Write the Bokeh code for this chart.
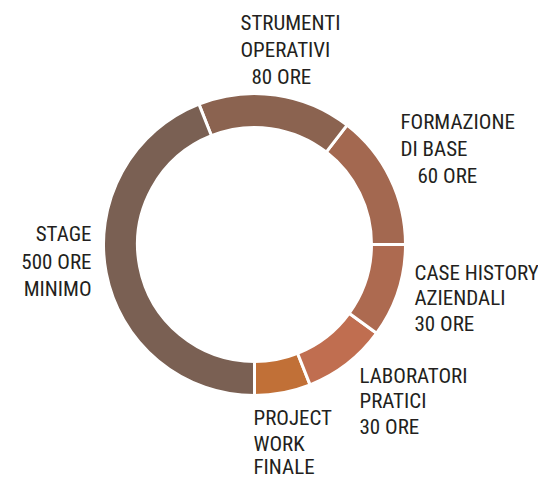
import math
from bokeh.plotting import figure
from bokeh.models import Range1d, ColumnDataSource
from bokeh.core.properties import value
from bokeh.embed import file_html
from bokeh.resources import INLINE

# ---- data (counter-clockwise from 6 o'clock) ----
categories = ["PROJECT WORK FINALE", "LABORATORI PRATICI", "CASE HISTORY AZIENDALI",
              "FORMAZIONE DI BASE", "STRUMENTI OPERATIVI", "STAGE 500 ORE MINIMO"]
shares = [6, 9, 10, 14.5, 16.5, 44]
colors = ["#c17037", "#c06e50", "#ad6a50", "#a36850", "#8b6350", "#7a6053"]

label_lines = [
    ["PROJECT", "WORK", "FINALE"],
    ["LABORATORI", "PRATICI", "30 ORE"],
    ["CASE HISTORY", "AZIENDALI", "30 ORE"],
    ["FORMAZIONE", "DI BASE", "60 ORE"],
    ["STRUMENTI", "OPERATIVI", "80 ORE"],
    ["STAGE", "500 ORE", "MINIMO"],
]

# ---- layout (screen pixels, y measured from top; y = text baseline) ----
W, H = 538, 478
CX, CY = 254, 244
R_OUT, R_IN = 151, 117
BASE_SHIFT = 8  # renderer places alphabetic baseline lower; compensate
label_layout = [
    [(253, 425, "left"), (253, 451, "left"), (253, 474, "left")],
    [(359, 383, "left"), (359, 408.5, "left"), (359, 434, "left")],
    [(414, 280, "left"), (414, 305.5, "left"), (414, 331, "left")],
    [(400, 129, "left"), (400, 156.5, "left"), (417, 183, "left")],
    [(240, 30, "left"), (240, 57, "left"), (251, 84, "left")],
    [(91, 241.5, "right"), (91, 269.5, "right"), (91, 296.5, "right")],
]

total = sum(shares)
starts, ends = [], []
acc = -math.pi / 2
for s in shares:
    starts.append(acc)
    acc += s / total * 2 * math.pi
    ends.append(acc)

src = ColumnDataSource(dict(x=[CX] * len(shares), y=[H - CY] * len(shares),
                            start=starts, end=ends, color=colors, cat=categories))

p = figure(width=W, height=H, x_range=Range1d(0, W), y_range=Range1d(0, H),
           output_backend="svg", toolbar_location=None, min_border=0)
p.axis.visible = False
p.grid.visible = False
p.outline_line_color = None
p.background_fill_color = "white"
p.border_fill_color = "white"

p.annular_wedge(x="x", y="y", inner_radius=R_IN, outer_radius=R_OUT,
                start_angle="start", end_angle="end", fill_color="color",
                line_color="white", line_width=3, source=src)

tx, ty, tt, ta = [], [], [], []
for lines, lay in zip(label_lines, label_layout):
    for txt, (x, y, al) in zip(lines, lay):
        tx.append(x); ty.append(H - (y - BASE_SHIFT)); tt.append(txt); ta.append(al)
tsrc = ColumnDataSource(dict(x=tx, y=ty, text=tt, align=ta))
p.text(x="x", y="y", text="text", text_align="align", text_baseline="alphabetic",
       text_font=value("Roboto Condensed"), text_font_size="21px",
       text_color="#231f20", source=tsrc)

open("out.html", "w").write(file_html(p, INLINE))
